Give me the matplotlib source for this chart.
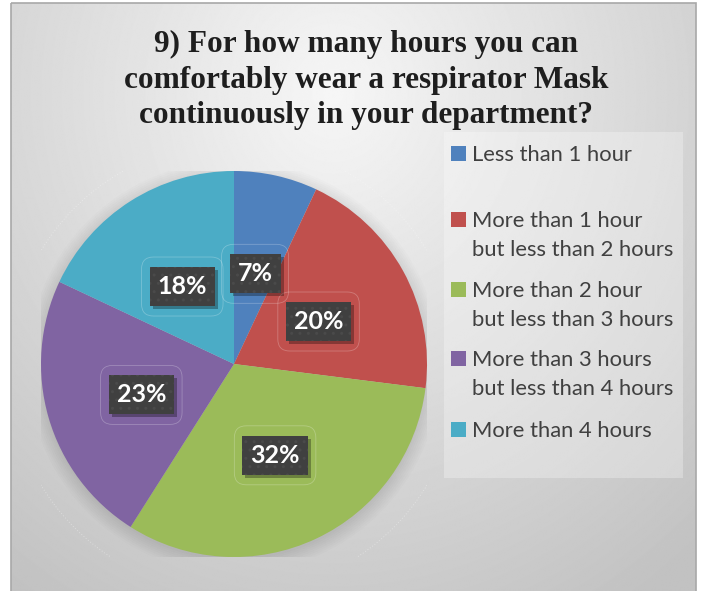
import numpy as np
import matplotlib.pyplot as plt
from matplotlib.patches import Rectangle, Circle, FancyBboxPatch

W, H = 702, 591

TITLE = "9) For how many hours you can\ncomfortably wear a respirator Mask\ncontinuously in your department?"
categories = ["Less than 1 hour",
              "More than 1 hour\nbut less than 2 hours",
              "More than 2 hour\nbut less than 3 hours",
              "More than 3 hours\nbut less than 4 hours",
              "More than 4 hours"]
shares = [7, 20, 32, 23, 18]
colors = ["#4F81BD", "#C0504D", "#9BBB59", "#8064A2", "#4BACC6"]

fig = plt.figure(figsize=(W / 100, H / 100), dpi=100)
fig.patch.set_facecolor("white")

# ─── BACKGROUND (chart area with radial gradient) ─────────
bg = fig.add_axes([0, 0, 1, 1])
bg.set_xlim(0, W); bg.set_ylim(H, 0); bg.axis("off")
yy, xx = np.mgrid[0:H, 0:W]
d = np.hypot((xx - 330) / 520, (yy - 90) / 560)
shade = np.clip(0.965 - 0.19 * d, 0.76, 0.97)
bg.imshow(shade, cmap="gray", vmin=0, vmax=1, extent=(11, 696, H, 3), aspect="auto", zorder=0)
bg.add_patch(Rectangle((11, 3), 685, H, fill=False, ec="#a8a8a8", lw=1.2, zorder=1))

# legend panel
bg.add_patch(Rectangle((444, 132), 239, 346, fc="white", alpha=0.28, ec="none", zorder=1))

# title
bg.text(366, 80, TITLE, ha="center", va="center", fontsize=22.5, fontweight="bold",
        family="Liberation Serif", color="#1e1e1e", linespacing=1.3, zorder=3)

# legend entries
leg_y = [153, 219, 289, 358, 429]
for lab, col, y in zip(categories, colors, leg_y):
    bg.add_patch(Rectangle((451, y - 7), 15, 15, fc=col, ec="none", zorder=3))
    bg.text(472, y - 8, lab, ha="left", va="top",
            fontsize=15.8, family="Lato", color="#404040", linespacing=1.55, zorder=3)

# ─── PIE ─────────────────────────────────────────────────
cx, cy, R = 234, 364, 193
ax = fig.add_axes([(cx - R) / W, (H - cy - R) / H, 2 * R / W, 2 * R / H])
ax.axis("off")
px = 2.0 / (2 * R)  # one pixel in pie data units

# soft shadow under the pie
for k in range(8):
    ax.add_patch(Circle((0, -0.015), 1.0 + 0.01 * k, fc="black", alpha=0.012, ec="none", zorder=0))
ax.add_patch(Circle((0, -0.02), 1.17, fill=False, ec="white", lw=0.7, ls=(0, (1, 2)), alpha=0.35, zorder=0))

wedges, _, autotexts = ax.pie(
    shares, colors=colors, startangle=90, counterclock=False, radius=1,
    autopct="%1.0f%%", pctdistance=0.5,
    wedgeprops=dict(linewidth=0, zorder=1),
    textprops=dict(color="white", fontsize=18, fontweight="bold", family="Lato"),
)
ax.set_xlim(-1, 1); ax.set_ylim(-1, 1); ax.set_aspect("equal")

for t in autotexts:
    t.set_zorder(5)
    x, y = t.get_position()
    t.set_position((x, y - 4 * px))
    t.set_bbox(dict(boxstyle="square,pad=0.32", fc="#404040", ec="#4a4a4a", hatch="..", lw=0))

# shadows and faint frames around the data labels, sized from the drawn label boxes
fig.canvas.draw()
inv = ax.transData.inverted()
for t in autotexts:
    ext = t.get_bbox_patch().get_window_extent()
    (x0, y0), (x1, y1) = inv.transform([[ext.x0, ext.y0], [ext.x1, ext.y1]])
    bw, bh = x1 - x0, y1 - y0
    ax.add_patch(Rectangle((x0 + 3 * px, y0 - 3 * px), bw, bh, fc="black", alpha=0.3, ec="none", zorder=4))
    ax.add_patch(FancyBboxPatch((x0 - 8 * px, y0 - 10 * px), bw + 16 * px, bh + 20 * px,
                                boxstyle=f"round,pad=0,rounding_size={12 * px}",
                                fc="none", ec="white", lw=0.6, alpha=0.25, zorder=3))

fig.savefig("out.png", dpi=100)
